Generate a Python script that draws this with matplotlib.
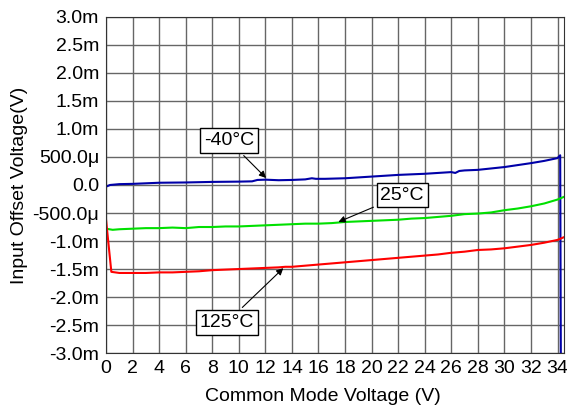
import matplotlib
matplotlib.use("Agg")
import matplotlib.pyplot as plt
import numpy as np

plt.rcParams['font.family'] = ['Liberation Sans', 'DejaVu Sans']

# common mode voltage (V) and offset (mV)
x_m40 = [0, 0.3, 1, 2, 4, 6, 8, 10, 11, 11.4, 12, 13, 14, 15, 15.5, 15.8, 16.5,
         18, 20, 22, 24, 26, 26.3, 26.6, 27, 28, 30, 32, 33, 34, 34.2, 34.25]
v_m40 = [-0.03, 0.0, 0.015, 0.02, 0.04, 0.045, 0.055, 0.06, 0.065, 0.09, 0.095,
         0.085, 0.09, 0.1, 0.12, 0.11, 0.11, 0.12, 0.15, 0.18, 0.2, 0.23, 0.215,
         0.25, 0.26, 0.27, 0.32, 0.39, 0.43, 0.48, 0.53, -3.2]

x_25 = [0, 0.5, 1, 2, 3, 4, 5, 6, 7, 8, 9, 10, 11, 12, 13, 14, 15, 16, 17, 18,
        19, 20, 21, 22, 23, 24, 25, 26, 27, 28, 29, 30, 31, 32, 33, 34, 34.5]
v_25 = [-0.78, -0.8, -0.79, -0.78, -0.77, -0.77, -0.76, -0.77, -0.75, -0.75,
        -0.74, -0.74, -0.73, -0.72, -0.71, -0.70, -0.69, -0.69, -0.68, -0.66,
        -0.65, -0.64, -0.63, -0.62, -0.60, -0.59, -0.57, -0.55, -0.52, -0.51,
        -0.49, -0.45, -0.42, -0.38, -0.33, -0.26, -0.21]

x_125 = [0, 0.4, 1, 2, 3, 4, 5, 6, 7, 8, 9, 10, 11, 12, 13, 13.5, 14, 15, 16,
         17, 18, 19, 20, 21, 22, 23, 24, 25, 26, 27, 28, 29, 30, 31, 32, 33, 34, 34.5]
v_125 = [-0.62, -1.55, -1.57, -1.57, -1.57, -1.56, -1.56, -1.55, -1.54, -1.52,
         -1.51, -1.50, -1.49, -1.48, -1.47, -1.46, -1.46, -1.44, -1.42, -1.40,
         -1.38, -1.36, -1.34, -1.32, -1.30, -1.28, -1.26, -1.24, -1.21, -1.19,
         -1.16, -1.15, -1.13, -1.10, -1.07, -1.03, -0.98, -0.93]

y_ticks = [-3.0, -2.5, -2.0, -1.5, -1.0, -0.5, 0.0, 0.5, 1.0, 1.5, 2.0, 2.5, 3.0]
y_labels = ['-3.0m', '-2.5m', '-2.0m', '-1.5m', '-1.0m', '-500.0\u03bc', '0.0',
            '500.0\u03bc', '1.0m', '1.5m', '2.0m', '2.5m', '3.0m']
x_ticks = list(range(0, 35, 2))

fig = plt.figure(figsize=(5.67, 4.12), dpi=100)
ax = fig.add_axes([0.187, 0.143, 0.808, 0.816])

ax.plot(x_m40, v_m40, color='#0000a8', lw=1.5)
ax.plot(x_25, v_25, color='#00e000', lw=1.5)
ax.plot(x_125, v_125, color='#ff0000', lw=1.5)

ax.set_xlim(0, 34.5)
ax.set_ylim(-3, 3)
ax.set_xticks(x_ticks)
ax.set_yticks(y_ticks)
ax.set_yticklabels(y_labels)
ax.tick_params(length=0, labelsize=14, pad=5)
ax.grid(True, color='#666666', lw=1)
ax.set_axisbelow(True)
for s in ax.spines.values():
    s.set_color('#333333')

ax.set_xlabel('Common Mode Voltage (V)', fontsize=14)
ax.set_ylabel('Input Offset Voltage(V)', fontsize=14)
ax.xaxis.set_label_coords(0.474, -0.105)
ax.yaxis.set_label_coords(-0.17, 0.5)

box = dict(boxstyle='square,pad=0.2', fc='white', ec='black', lw=1)
arrow = dict(arrowstyle='-|>', color='black', lw=0.8, mutation_scale=10)
ax.annotate('-40\u00b0C', xy=(12.2, 0.09), xytext=(9.25, 0.79), fontsize=14,
            ha='center', va='center', bbox=box, arrowprops=arrow)
ax.annotate('25\u00b0C', xy=(17.3, -0.68), xytext=(22.3, -0.18), fontsize=14,
            ha='center', va='center', bbox=box, arrowprops=arrow)
ax.annotate('125\u00b0C', xy=(13.5, -1.45), xytext=(9.1, -2.45), fontsize=14,
            ha='center', va='center', bbox=box, arrowprops=arrow)

fig.savefig('out.png', dpi=100)
